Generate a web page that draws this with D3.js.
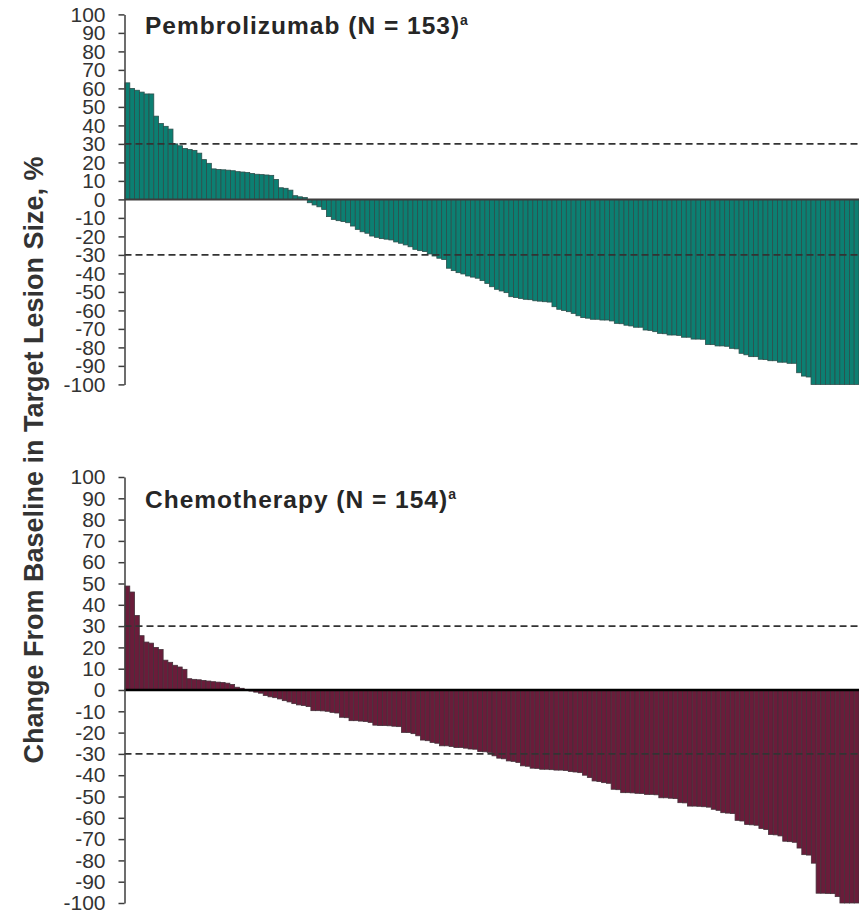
<!DOCTYPE html>
<html>
<head>
<meta charset="utf-8">
<script src="https://cdn.jsdelivr.net/npm/d3@7"></script>
<style>
  html, body { margin: 0; padding: 0; background: #fff; }
  svg { display: block; font-family: Arial, "Liberation Sans", sans-serif; }
</style>
</head>
<body>
<svg id="chart" width="859" height="912"></svg>
<script>
// Best percentage change from baseline in target lesion size, one bar per patient, sorted.
const pembroValues = [
  63, 60, 59, 58, 57, 57, 45, 41, 39.5, 38, 30, 29, 27.5, 27, 26.5, 25, 21.5, 19.5, 16.5, 16.2,
  16, 15.8, 15.5, 15, 14.8, 14.5, 14, 13.6, 13.4, 13.2, 13, 10.8, 6.3, 6, 5, 2, 1.4, 1.0,
  -1.8, -3, -4, -5.4, -9.3, -10.8, -11.5, -12, -12.6, -14.4,
  -16.2, -17.5, -18.3, -19.8, -20.5, -21.2, -21.5, -21.9, -23, -23.7,
  -24.6, -25.6, -27, -27.7, -28.2, -29.5, -30.6, -31.8, -32.5, -37.2,
  -38.5, -39.6, -40.3, -41.4, -42, -42.6, -43.9, -45.4, -47.2, -48.6,
  -49.5, -50.4, -52.6, -53, -53.5, -54, -54.2, -54.8, -55, -55.3,
  -55.5, -58, -59.4, -60, -60.7, -61.6, -62.9, -63.9, -64.2, -64.8,
  -64.8, -65.2, -65.2, -65.7, -67, -67.2, -68, -68.4, -69.1, -69.1,
  -70.6, -70.8, -71.5, -72.4, -72.6, -73.3, -73.3, -73.5, -74.5, -74.5,
  -75.5, -75.5, -75.6, -78.4, -78.5, -79.2, -79.2, -79.4, -80.5, -80.8,
  -83.2, -84, -85, -85, -86.4, -86.6, -87.2, -87.2, -88, -88,
  -88.6, -88.6, -93.7, -95.5, -96, -100, -100, -100, -100, -100,
  -100, -100, -100, -100, -100
];

const chemoValues = [
  48.8, 46, 35, 25.5, 22.5, 22, 20, 19, 14, 13, 11.6, 10.8, 9.7, 5.3, 5, 4.8, 4.5, 4.2, 3.9, 3.7,
  3.5, 3.2, 2.6, 1.3, 0.8,
  0, -0.5, -1, -1.5, -2.6,
  -3.2, -3.6, -4.2, -5, -5.6, -6.4, -7, -7.3, -7.8, -9.7,
  -9.7, -9.8, -10, -10.5, -10.8, -12.8, -13, -14.4, -14.4, -14.6,
  -14.8, -15.2, -16.5, -16.7, -16.7, -16.8, -17, -17.2, -19.9, -20,
  -20.5, -21.5, -23.5, -23.8, -24.6, -25, -26.2, -26.2, -26.5, -27,
  -27, -27.3, -27.7, -27.8, -28.9, -29, -29.3, -30.9, -32, -32.3,
  -33.3, -33.5, -34, -35.6, -35.8, -36.7, -36.8, -37.2, -37.2, -37.4,
  -37.6, -37.6, -37.8, -38.3, -38.5, -38.8, -40, -41.1, -42.7, -43,
  -43.5, -43.8, -46.6, -46.8, -48.2, -48.2, -48.3, -48.5, -48.6, -49,
  -49, -49.2, -50.6, -50.6, -50.8, -51, -52.9, -53, -54.5, -54.5,
  -54.6, -54.8, -55, -56, -56.5, -57.6, -57.8, -58, -61.2, -61.5,
  -63.1, -63.3, -63.5, -65, -65.5, -67.8, -68, -68.5, -71, -71.2,
  -71.5, -74.2, -77.3, -77.5, -81.3, -95.4, -95.4, -95.5, -95.6, -97,
  -100, -100, -100, -100
];

const tickValues = [100, 90, 80, 70, 60, 50, 40, 30, 20, 10, 0, -10, -20, -30, -40, -50, -60, -70, -80, -90, -100];
const tickLabels = ["100", "90", "80", "70", "60", "50", "40", "30", "20", "10", "0",
                    "-10", "-20", "-30", "-40", "-50", "-60", "-70", "-80", "-90", "-100"];
const thresholds = [30, -30];

const panels = [
  { title: "Pembrolizumab (N = 153)", values: pembroValues, top: 14.4, bottom: 384.4, titleY: 34,
    fill: "#0c7f72", stroke: "#2c4f4c", zeroColor: "#3d3d3d", zeroWidth: 2 },
  { title: "Chemotherapy (N = 154)", values: chemoValues, top: 477, bottom: 903, titleY: 508,
    fill: "#6a1c3a", stroke: "#45303a", zeroColor: "#000", zeroWidth: 2.5 }
];

const svg = d3.select("#chart");
const left = 124.5, right = 859;
const labelMap = new Map(tickValues.map((v, i) => [v, tickLabels[i]]));

panels.forEach(p => {
  const g = svg.append("g");
  const x = d3.scaleBand().domain(d3.range(p.values.length)).range([left + 0.5, right]).padding(0);
  const y = d3.scaleLinear().domain([-100, 100]).range([p.bottom, p.top]);

  // bars
  g.append("g").selectAll("rect").data(p.values).join("rect")
    .attr("x", (d, i) => x(i))
    .attr("width", x.bandwidth())
    .attr("y", d => y(Math.max(0, d)))
    .attr("height", d => Math.abs(y(d) - y(0)))
    .attr("fill", p.fill)
    .attr("stroke", p.stroke)
    .attr("stroke-width", 0.8);

  // ±30% reference lines
  g.append("g").selectAll("line").data(thresholds).join("line")
    .attr("x1", left).attr("x2", right)
    .attr("y1", d => y(d)).attr("y2", d => y(d))
    .attr("stroke", "#333")
    .attr("stroke-width", 1.6)
    .attr("stroke-dasharray", "7,4");

  // zero baseline
  g.append("line")
    .attr("x1", left).attr("x2", right)
    .attr("y1", y(0)).attr("y2", y(0))
    .attr("stroke", p.zeroColor)
    .attr("stroke-width", p.zeroWidth);

  // y axis
  const axis = d3.axisLeft(y)
    .tickValues(tickValues)
    .tickFormat(d => labelMap.get(d))
    .tickSize(6)
    .tickSizeOuter(0)
    .tickPadding(13);
  const ax = g.append("g").attr("transform", `translate(${left},0)`).call(axis);
  ax.select(".domain").attr("stroke", "#3d3d3d").attr("stroke-width", 1.5);
  ax.selectAll(".tick line").attr("stroke", "#3d3d3d").attr("stroke-width", 1.5);
  ax.selectAll(".tick text")
    .attr("font-family", "Arial, 'Liberation Sans', sans-serif")
    .attr("font-size", 21)
    .attr("fill", "#333");

  // panel title
  const t = g.append("text")
    .attr("x", 145)
    .attr("y", p.titleY)
    .attr("font-size", 24.5)
    .attr("font-weight", "bold")
    .attr("fill", "#262626")
    .attr("letter-spacing", 1)
    .text(p.title);
  t.append("tspan")
    .attr("dx", 0)
    .attr("dy", -9)
    .attr("font-size", 14)
    .text("a");
});

// shared y-axis title
svg.append("text")
  .attr("transform", "translate(43,460) rotate(-90)")
  .attr("text-anchor", "middle")
  .attr("font-size", 27)
  .attr("font-weight", "bold")
  .attr("fill", "#333")
  .text("Change From Baseline in Target Lesion Size, %");
</script>
</body>
</html>
